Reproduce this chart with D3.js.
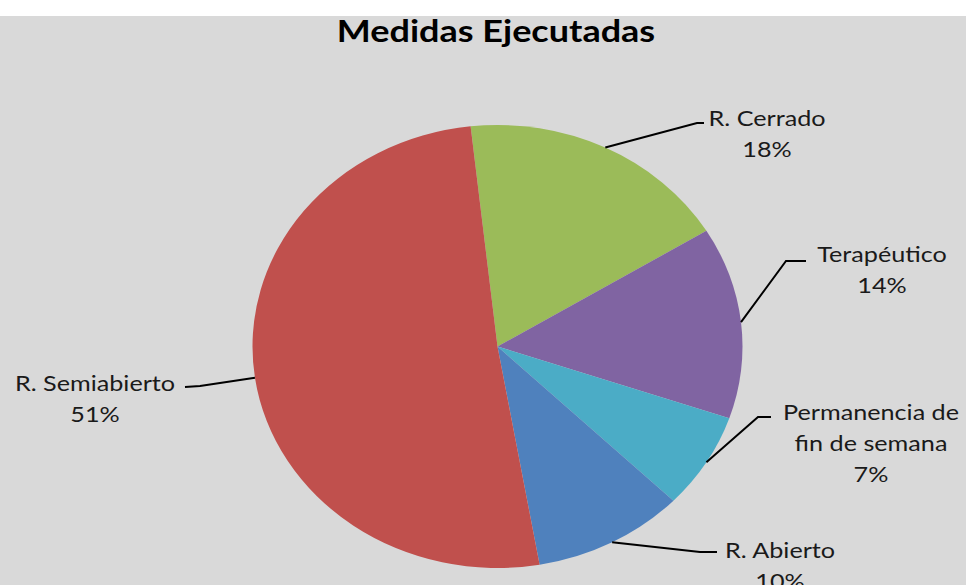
<!DOCTYPE html>
<html><head><meta charset="utf-8">
<script src="https://cdn.jsdelivr.net/npm/d3@7"></script>
<style>html,body{margin:0;padding:0;background:#fff;}svg{display:block;}</style>
</head><body>
<svg id="chart" width="966" height="585"></svg>
<script>
// ---- data ----
const title = "Medidas Ejecutadas";
const categories = ["R. Cerrado", "Terapéutico", "Permanencia de fin de semana", "R. Abierto", "R. Semiabierto"];
const labelLines = [["R. Cerrado"], ["Terapéutico"], ["Permanencia de", "fin de semana"], ["R. Abierto"], ["R. Semiabierto"]];
const values = [18, 14, 7, 10, 51];
const colors = ["#9BBB59", "#8064A2", "#4BACC6", "#4F81BD", "#C0504D"];

// ---- layout (not data) ----
const W = 966, H = 585;
const cx = 497.5, cy = 346.5, rx = 245, ry = 221.5;
const startDeg = -6.3;
const stretch = 1.2; // horizontal text stretch seen in the reference
// label layout: elbow point, end of horizontal tick, text centre x, first-line centre y
const labelLayout = [
  {elbow: [697, 123], end: [704, 123], tx: 767, ty: 118},
  {elbow: [786, 261], end: [806, 261], tx: 882, ty: 254},
  {elbow: [758, 417], end: [771, 417], tx: 871, ty: 412},
  {elbow: [700, 552], end: [717, 552], tx: 780, ty: 550},
  {elbow: [200, 386], end: [185, 387], tx: 95, ty: 383}
];
const lineH = 31;

const svg = d3.select("#chart");
svg.append("rect").attr("width", W).attr("height", H).attr("fill", "#fff");
svg.append("rect").attr("x", 0).attr("y", 16).attr("width", W).attr("height", H - 16).attr("fill", "#D9D9D9");

svg.append("g").attr("transform", `translate(496,30) scale(${stretch},1)`)
  .append("text").attr("x", 0).attr("y", 0).attr("text-anchor", "middle")
  .attr("dominant-baseline", "central")
  .style("font-family", "Lato, 'Open Sans', sans-serif").style("font-weight", "bold")
  .style("font-size", "30px").attr("fill", "#000").text(title);

const pie = d3.pie().sort(null).value(d => d)
  .startAngle(startDeg * Math.PI / 180).endAngle(startDeg * Math.PI / 180 + 2 * Math.PI);
const arcs = pie(values);
const arc = d3.arc().innerRadius(0).outerRadius(ry);

const g = svg.append("g").attr("transform", `translate(${cx},${cy}) scale(${rx / ry},1)`);
g.selectAll("path").data(arcs).enter().append("path")
  .attr("d", arc).attr("fill", (d, i) => colors[i]);

const total = d3.sum(values);
const fmt = v => Math.round(v / total * 100) + "%";

arcs.forEach((a, i) => {
  const mid = (a.startAngle + a.endAngle) / 2;
  const px = cx + rx * Math.sin(mid), py = cy - ry * Math.cos(mid);
  const L = labelLayout[i];
  svg.append("polyline")
    .attr("points", [[px, py], L.elbow, L.end].map(p => p.join(",")).join(" "))
    .attr("fill", "none").attr("stroke", "#000").attr("stroke-width", 2);
  const lines = labelLines[i].concat([fmt(values[i])]);
  const t = svg.append("g").attr("transform", `translate(${L.tx},${L.ty}) scale(${stretch},1)`)
    .append("text").attr("text-anchor", "middle")
    .style("font-family", "Lato, 'Open Sans', sans-serif").style("font-size", "21px").attr("fill", "#1a1a1a");
  lines.forEach((s, k) => {
    t.append("tspan").attr("x", 0).attr("y", k * lineH).attr("dominant-baseline", "central").text(s);
  });
});
</script>
</body></html>
